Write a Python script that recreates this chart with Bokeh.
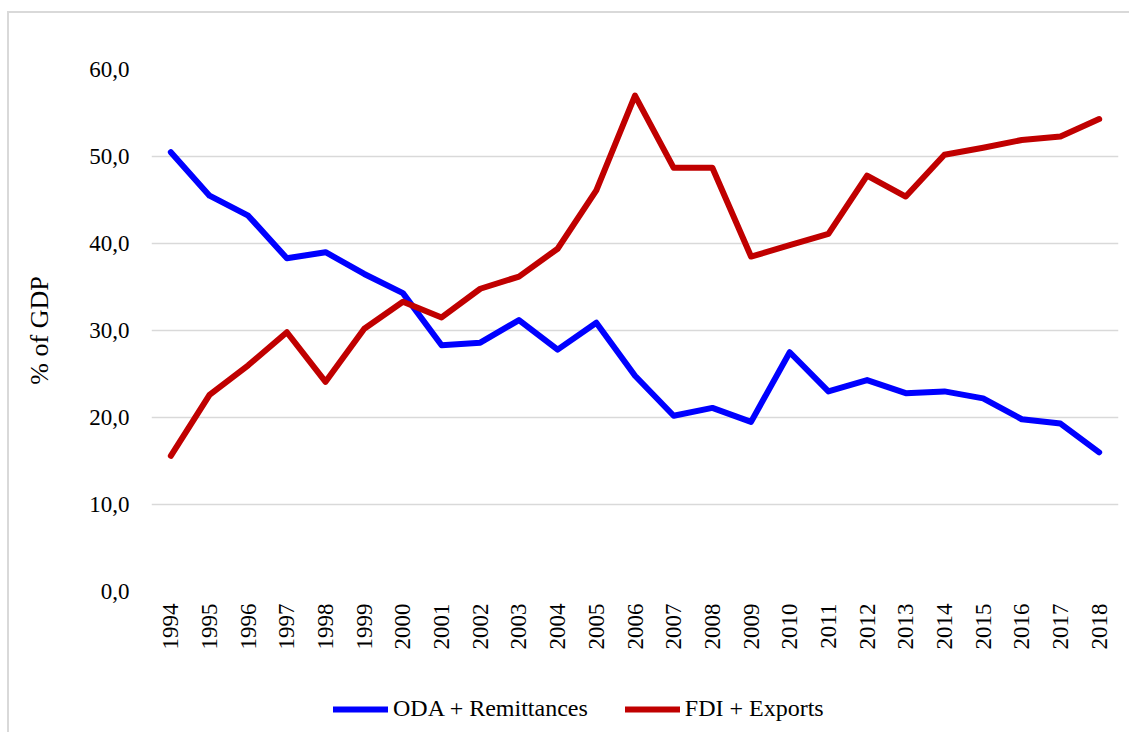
from bokeh.plotting import figure
from bokeh.layouts import column
from bokeh.embed import file_html
from bokeh.resources import INLINE
from bokeh.models import FixedTicker, CustomJSTickFormatter, Legend, LegendItem, Range1d, ColumnDataSource
import math

years = [str(y) for y in range(1994, 2019)]
oda_remittances = [50.5, 45.5, 43.2, 38.3, 39.0, 36.5, 34.3, 28.3, 28.6, 31.2, 27.8, 30.9,
                   24.8, 20.2, 21.1, 19.5, 27.5, 23.0, 24.3, 22.8, 23.0, 22.2, 19.8, 19.3, 16.0]
fdi_exports = [15.6, 22.6, 26.0, 29.8, 24.1, 30.2, 33.3, 31.5, 34.8, 36.2, 39.4, 46.1,
               57.0, 48.7, 48.7, 38.5, 39.8, 41.1, 47.8, 45.4, 50.2, 51.0, 51.9, 52.3, 54.3]
y_ticks = [0, 10, 20, 30, 40, 50, 60]
series_names = ["ODA + Remittances", "FDI + Exports"]
series_colors = ["#0000ff", "#c00000"]

FONT = "Liberation Serif"

source = ColumnDataSource(dict(year=years, oda=oda_remittances, fdi=fdi_exports))

p = figure(x_range=years, y_range=Range1d(0, 60), width=1120, height=657,
           output_backend="svg", toolbar_location=None,
           min_border_left=142, min_border_right=11, min_border_top=56, min_border_bottom=79)

p.outline_line_color = None
p.background_fill_color = "white"
p.border_fill_color = "white"

p.line("year", "oda", source=source, line_color=series_colors[0], line_width=6,
       line_cap="round", line_join="round")
p.line("year", "fdi", source=source, line_color=series_colors[1], line_width=6,
       line_cap="round", line_join="round")

# axes
p.yaxis.ticker = FixedTicker(ticks=y_ticks)
p.yaxis.formatter = CustomJSTickFormatter(code="return tick.toFixed(1).replace('.', ',');")
p.yaxis.axis_line_color = None
p.yaxis.major_tick_line_color = None
p.yaxis.minor_tick_line_color = None
p.yaxis.major_label_text_font = FONT
p.yaxis.major_label_text_font_size = "23px"
p.yaxis.major_label_text_color = "#000000"
p.yaxis.major_label_standoff = 16
p.yaxis.axis_label = "% of GDP"
p.yaxis.axis_label_text_font = FONT
p.yaxis.axis_label_text_font_size = "26px"
p.yaxis.axis_label_text_font_style = "normal"
p.yaxis.axis_label_text_color = "#000000"
p.yaxis.axis_label_standoff = 32

p.xaxis.axis_line_color = None
p.xaxis.major_tick_line_color = None
p.xaxis.minor_tick_line_color = None
p.xaxis.major_label_orientation = math.pi / 2
p.xaxis.major_label_text_font = FONT
p.xaxis.major_label_text_font_size = "23px"
p.xaxis.major_label_text_color = "#000000"
p.xaxis.major_label_standoff = 6

p.xgrid.grid_line_color = None
p.ygrid.grid_line_color = "#d9d9d9"
p.ygrid.grid_line_width = 1.5

# legend strip below the chart (legend swatches only; series are drawn above)
lg = figure(width=1120, height=62, output_backend="svg", toolbar_location=None,
            x_range=Range1d(0, 1), y_range=Range1d(0, 1),
            x_axis_type=None, y_axis_type=None,
            min_border_left=0, min_border_right=0, min_border_top=0, min_border_bottom=0)
lg.outline_line_color = None
lg.grid.visible = False
lg.border_fill_color = "white"
items = []
for name, col in zip(series_names, series_colors):
    r = lg.line(x=[-5, -4], y=[-5, -4], line_color=col, line_width=6, line_cap="round")
    items.append(LegendItem(label=name, renderers=[r]))
legend = Legend(items=items, orientation="horizontal", location=(182, 10),
                border_line_color=None, background_fill_alpha=0,
                label_text_font=FONT, label_text_font_size="24px", label_text_color="#000000",
                glyph_width=55, glyph_height=22, label_height=22, label_standoff=5, spacing=37,
                padding=0, margin=0)
lg.add_layout(legend)

layout = column(p, lg, spacing=0)
layout.styles = {"border-left": "2px solid #d9d9d9", "border-top": "2px solid #d9d9d9",
                 "margin-top": "11px", "margin-left": "7px"}

open("out.html", "w").write(file_html(layout, INLINE))
